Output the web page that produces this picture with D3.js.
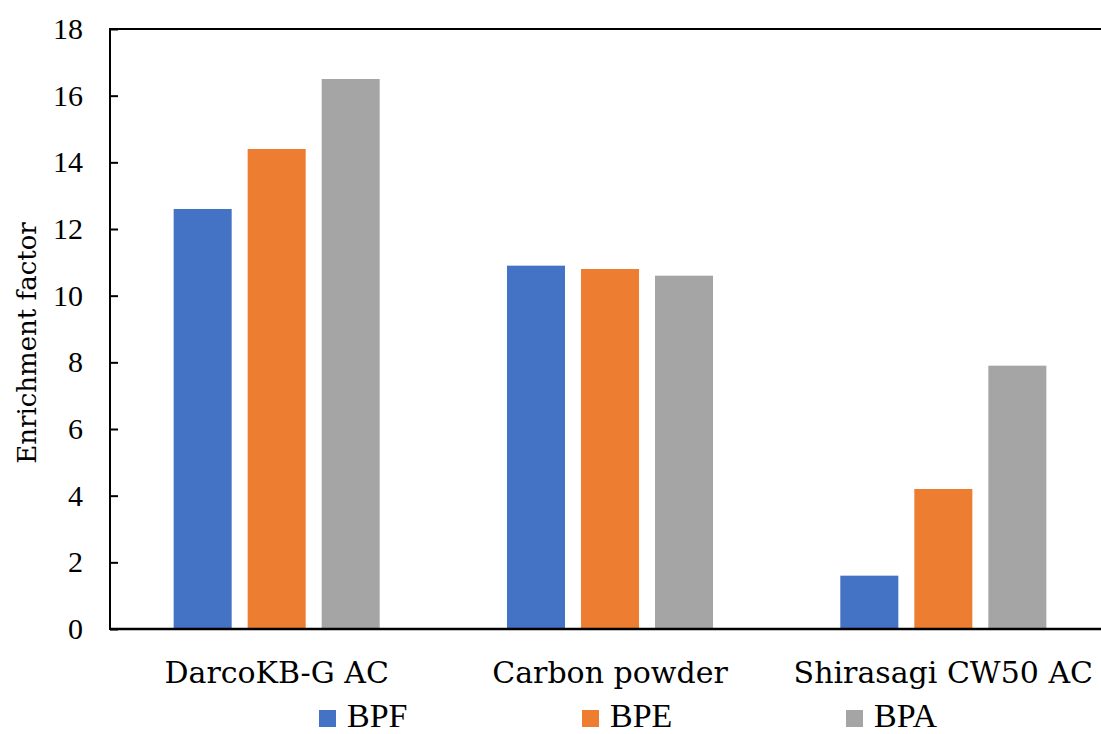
<!DOCTYPE html>
<html>
<head>
<meta charset="utf-8">
<script src="https://cdn.jsdelivr.net/npm/d3@7"></script>
<style>
  body { margin: 0; background: #fff; }
</style>
</head>
<body>
<div id="chart"></div>
<script>
// values
const categories = ["DarcoKB-G AC", "Carbon powder", "Shirasagi CW50 AC"]
const seriesNames = ["BPF", "BPE", "BPA"]
const bpf = [12.6, 10.9, 1.6]
const bpe = [14.4, 10.8, 4.2]
const bpa = [16.5, 10.6, 7.9]
const yTicks = [0, 2, 4, 6, 8, 10, 12, 14, 16, 18]
const colors = ["#4472c4", "#ed7d31", "#a5a5a5"]

const W = 1101, H = 734
const plotLeft = 110, plotRight = 1110, plotTop = 29, plotBottom = 629
const century = "'DejaVu Serif'"
const times = "'Liberation Serif'"

let data = categories.map((c, i) => ({cat: c, vals: [bpf[i], bpe[i], bpa[i]]}))

var svg = d3.select("#chart")
    .append("svg")
        .attr("width", W)
        .attr("height", H)

let x0 = d3.scaleBand().domain(categories).range([plotLeft, plotRight])
let x1 = d3.scaleBand().domain(seriesNames).range([0, x0.bandwidth()])
    .paddingInner(0.216).paddingOuter(0.86)
let y = d3.scaleLinear().domain([0, 18]).range([plotBottom, plotTop])

// bars
let groups = svg.append("g").selectAll("g")
    .data(data)
    .enter().append("g")
        .attr("transform", d => "translate(" + x0(d.cat) + ",0)")

groups.selectAll("rect")
    .data(d => d.vals.map((v, k) => ({name: seriesNames[k], v: v, k: k})))
    .enter().append("rect")
        .attr("x", d => x1(d.name))
        .attr("width", x1.bandwidth())
        .attr("y", d => y(d.v))
        .attr("height", d => y(0) - y(d.v))
        .attr("fill", d => colors[d.k])

// y axis, ticks pointing inward
let yAxis = svg.append("g")
    .attr("transform", "translate(" + plotLeft + ",0)")
    .call(d3.axisRight(y).tickValues(yTicks).tickSize(8).tickFormat(d3.format("d")))
yAxis.select(".domain").remove()
yAxis.selectAll(".tick line").attr("stroke", "#000").attr("stroke-width", 2)
yAxis.selectAll(".tick text")
    .attr("x", -27)
    .attr("text-anchor", "end")
    .attr("fill", "#000")
    .style("font-family", times)
    .style("font-size", "30px")

// frame lines: left, top, bottom
svg.append("line").attr("x1", plotLeft).attr("x2", plotLeft).attr("y1", plotTop - 1).attr("y2", plotBottom + 1)
    .attr("stroke", "#000").attr("stroke-width", 2)
svg.append("line").attr("x1", plotLeft).attr("x2", W).attr("y1", plotTop).attr("y2", plotTop)
    .attr("stroke", "#000").attr("stroke-width", 2)
svg.append("line").attr("x1", plotLeft).attr("x2", W).attr("y1", plotBottom).attr("y2", plotBottom)
    .attr("stroke", "#000").attr("stroke-width", 2.5)

// category labels
svg.append("g").selectAll("text")
    .data(categories)
    .enter().append("text")
        .attr("x", d => x0(d) + x0.bandwidth() / 2)
        .attr("y", 683)
        .attr("text-anchor", "middle")
        .style("font-family", century)
        .style("font-size", "30px")
        .text(d => d)

// y title
svg.append("text")
    .attr("transform", "translate(36,343) rotate(-90)")
    .attr("text-anchor", "middle")
    .style("font-family", century)
    .style("font-size", "26px")
    .text("Enrichment factor")

// legend
let legendX = [319, 582, 846]
let legend = svg.append("g").selectAll("g")
    .data(seriesNames)
    .enter().append("g")
        .attr("transform", (d, i) => "translate(" + legendX[i] + ",710)")
legend.append("rect")
    .attr("width", 17).attr("height", 17)
    .attr("fill", (d, i) => colors[i])
legend.append("text")
    .attr("x", 28)
    .attr("y", 17)
    .style("font-family", times)
    .style("font-size", "34px")
    .text(d => d)
</script>
</body>
</html>
